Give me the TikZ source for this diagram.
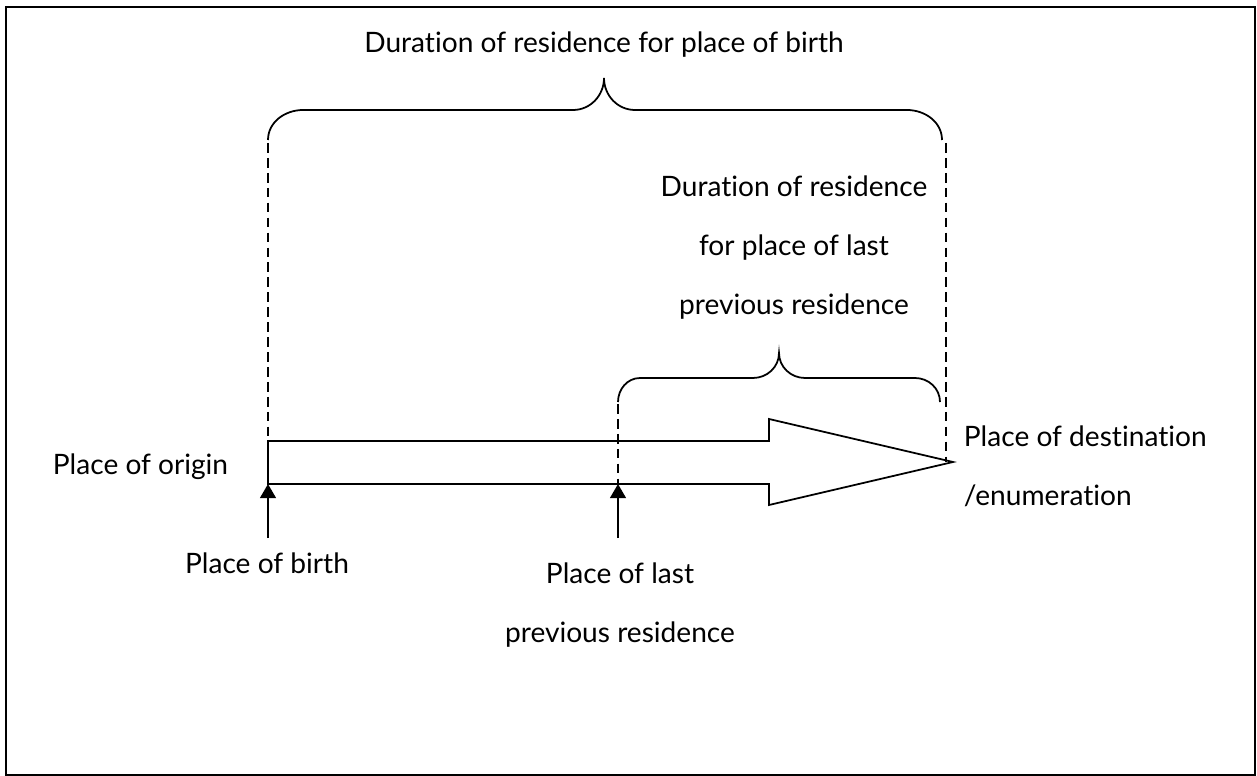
\documentclass[tikz,border=0pt]{standalone}
\usepackage{fontspec}
\setmainfont{Lato}[Ligatures=NoCommon]
\usetikzlibrary{arrows.meta}

\tikzset{
  lbl/.style={font=\fontsize{16}{33.5}\selectfont, inner sep=0pt},
  guide/.style={line width=1pt, dash pattern=on 5.5pt off 3pt},
  uparrow/.style={line width=1pt, -{Triangle[width=9pt,length=8pt]}},
  brc/.style={line width=1pt},
}

\begin{document}
\begin{tikzpicture}[x=0.02cm, y=0.02cm, line width=1pt]
 \useasboundingbox (0,0) rectangle (1257,-776);

 %frame
 \draw[line width=1.6pt] (6,-7) rectangle (1255,-775);

 %big arrow
 \def\dx{268}
 \def\dy{-441}
 \draw[line join=miter] (\dx,\dy) coordinate (S0) -- (769,\dy) -- (769,\dy+22)
   -- (953,\dy-21) coordinate (tip) -- (769,\dy-64) -- (769,\dy-43) -- (\dx,\dy-43) coordinate (S1) -- cycle;

 %brace 1
 \draw[brc] (268,-140) coordinate (E1) to[out=90,in=180] (303,-110) -- (573,-110)
   to[out=0,in=-90] (604,-78) coordinate (M1) to[out=-90,in=180] (635,-110) -- (907,-110)
   to[out=0,in=90] (942,-140) coordinate (E2);
 \node[lbl, anchor=base] (title) at (604,-53) {Duration of residence for place of birth};

 %brace 2
 \draw[brc] (618,-402) coordinate (E3) to[out=90,in=180] (640,-378) -- (753,-378)
   to[out=0,in=-90] (779,-353) coordinate (M2) to[out=-90,in=180] (805,-378) -- (915,-378)
   to[out=0,in=90] (940,-402) coordinate (E4);
 \node[lbl, anchor=north, align=center] (dur) at (794,-175) {Duration of residence\\for place of last\\previous residence};

 %dashed guides
 \coordinate (G0) at (268,-143);
 \coordinate (G1) at (618,-404);
 \coordinate (G2) at (946,-143);
 \coordinate (L0) at (618,-484);
 \coordinate (D0) at (946,-462);
 \draw[guide] (G0) -- (S0);
 \draw[guide] (G1) -- (L0);
 \draw[guide] (G2) -- (D0);

 %up arrows
 \foreach \x/\name in {268/B, 618/L} {
   \coordinate (\name top) at (\x,-484);
   \coordinate (\name bot) at (\x,-538);
   \draw[uparrow] (\name bot) -- (\name top);
 }

 %labels
 \node[lbl, anchor=base west] (origin) at (52,-475) {Place of origin};
 \node[lbl, anchor=base] (birth) at (267,-573) {Place of birth};
 \node[lbl, anchor=north, align=center] (last) at (620,-562) {Place of last\\previous residence};
 \node[lbl, anchor=north west, align=left] (dest) at (963,-425) {Place of destination\\/enumeration};

\end{tikzpicture}
\end{document}
